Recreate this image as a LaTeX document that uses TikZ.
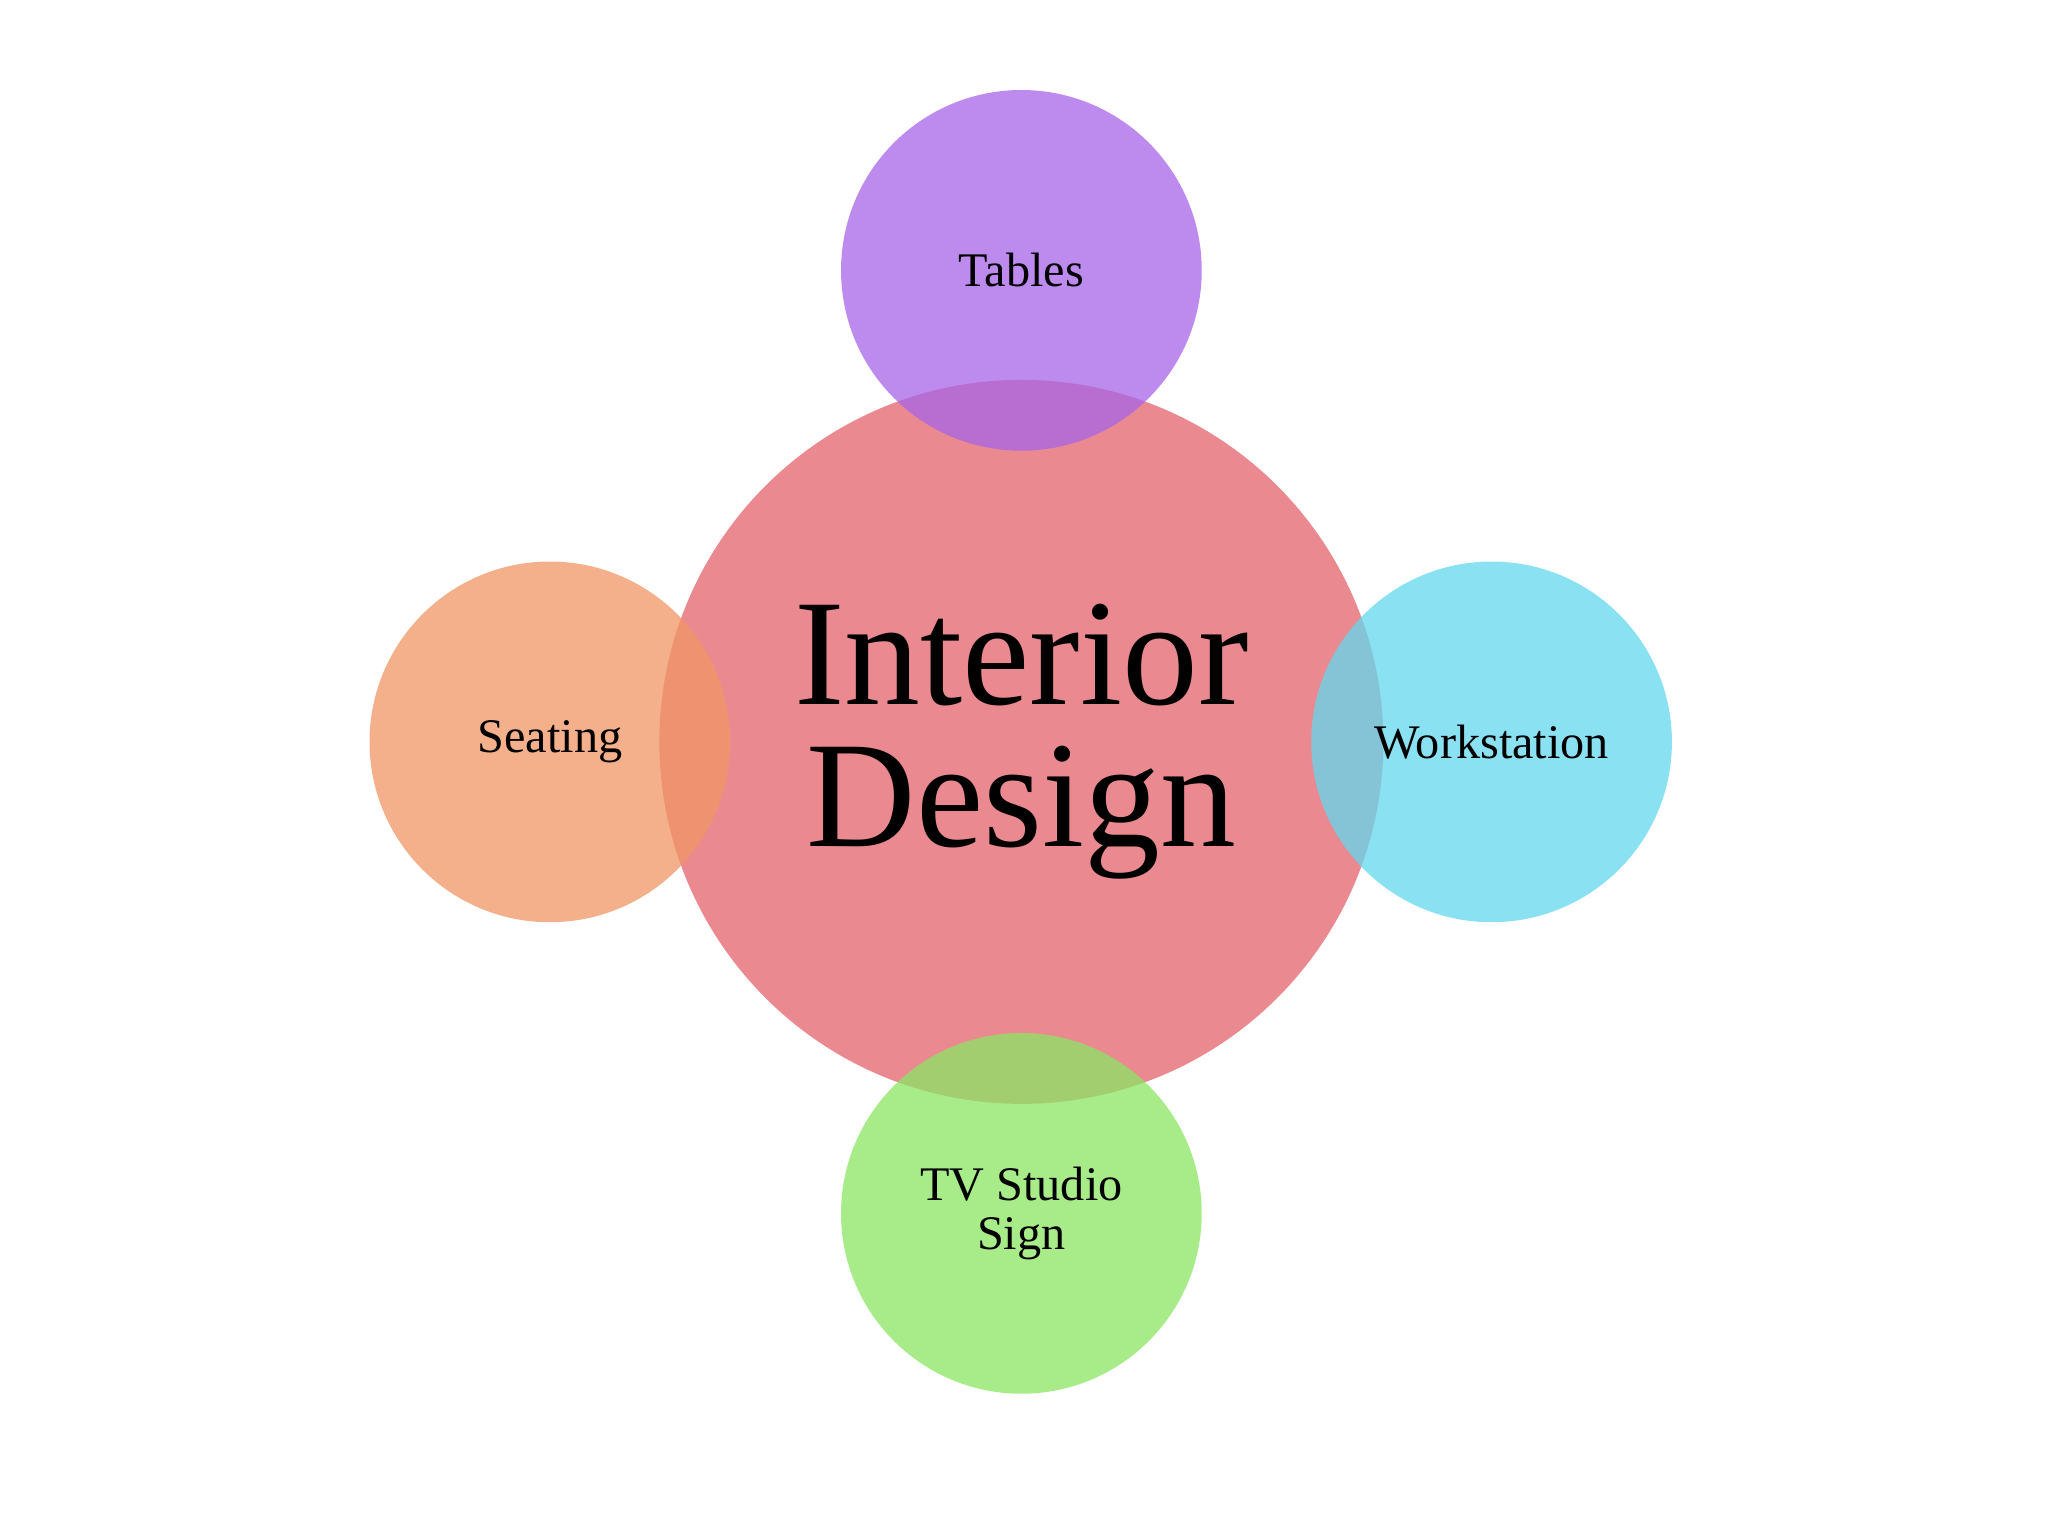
\documentclass[tikz,border=0pt]{standalone}
\usepackage{fontspec}
\setmainfont{Liberation Serif}
\begin{document}
\begin{tikzpicture}[x=0.01cm,y=-0.01cm,
  bub/.style={circle,fill opacity=0.75,text opacity=1,inner sep=0pt,align=center},
  small/.style={bub,minimum size=2.76cm,font=\fontsize{10.5}{10.5}\selectfont}]
\useasboundingbox[fill=white] (0,0) rectangle (1568,1176);
\node[bub,fill={rgb,255:red,228;green,100;blue,108},minimum size=5.54cm,font=\fontsize{33}{31}\selectfont] (c) at (782,568) {Interior\\Design};
\node[small,fill={rgb,255:red,168;green,100;blue,232}] (t) at (782,207) {Tables};
\node[small,fill={rgb,255:red,240;green,150;blue,100}] (s) at (421,568) {Seating};
\node[small,fill={rgb,255:red,100;green,215;blue,238}] (w) at (1142,568) {Workstation};
\node[small,fill={rgb,255:red,140;green,230;blue,100}] (v) at (782,929) {TV Studio\\Sign};
\end{tikzpicture}
\end{document}
